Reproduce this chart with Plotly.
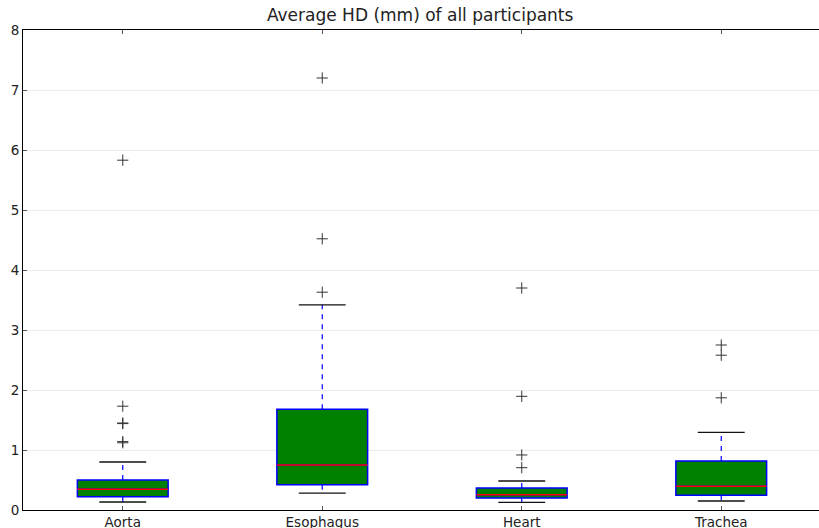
import plotly.graph_objects as go

categories = ["Aorta", "Esophagus", "Heart", "Trachea"]
q1 = [0.22, 0.42, 0.20, 0.245]
median = [0.345, 0.75, 0.255, 0.395]
q3 = [0.50, 1.68, 0.367, 0.815]
whisker_low = [0.133, 0.28, 0.128, 0.15]
whisker_high = [0.80, 3.42, 0.483, 1.295]
outliers = [
    [5.83, 1.73, 1.45, 1.44, 1.14, 1.12],
    [7.20, 4.52, 3.63],
    [3.70, 1.895, 0.917, 0.705],
    [2.75, 2.58, 1.87],
]
title = "Average HD (mm) of all participants"

BOX_W = 0.455
CAP_W = 0.235
positions = list(range(1, len(categories) + 1))

fig = go.Figure()

# whiskers (dashed blue)
wx, wy = [], []
for p, a, b, lo, hi in zip(positions, q1, q3, whisker_low, whisker_high):
    wx += [p, p, None, p, p, None]
    wy += [b, hi, None, a, lo, None]
fig.add_trace(go.Scatter(x=wx, y=wy, mode="lines",
                         line=dict(color="#0000ff", width=1.2, dash="5px,5px"),
                         hoverinfo="skip", showlegend=False))

# boxes
for p, a, m, b in zip(positions, q1, median, q3):
    fig.add_trace(go.Box(x=[p], q1=[a], median=[m], q3=[b],
                         lowerfence=[a], upperfence=[b],
                         width=BOX_W, fillcolor="#008000",
                         line=dict(color="#0000ff", width=1.5),
                         whiskerwidth=0, hoverinfo="skip", showlegend=False))

# medians (red)
mx, my = [], []
for p, m in zip(positions, median):
    mx += [p - BOX_W / 2, p + BOX_W / 2, None]
    my += [m, m, None]
fig.add_trace(go.Scatter(x=mx, y=my, mode="lines",
                         line=dict(color="#ff0000", width=1.5),
                         hoverinfo="skip", showlegend=False))

# caps (black)
cx, cy = [], []
for p, lo, hi in zip(positions, whisker_low, whisker_high):
    cx += [p - CAP_W / 2, p + CAP_W / 2, None, p - CAP_W / 2, p + CAP_W / 2, None]
    cy += [lo, lo, None, hi, hi, None]
fig.add_trace(go.Scatter(x=cx, y=cy, mode="lines",
                         line=dict(color="#111111", width=1.3),
                         hoverinfo="skip", showlegend=False))

# outliers
ox, oy = [], []
for p, vals in zip(positions, outliers):
    ox += [p] * len(vals)
    oy += vals
fig.add_trace(go.Scatter(x=ox, y=oy, mode="markers",
                         marker=dict(symbol="cross-thin", size=8,
                                     line=dict(color="#333333", width=1)),
                         hoverinfo="skip", showlegend=False))

font = "DejaVu Sans, Liberation Sans, sans-serif"
fig.update_layout(
    width=819, height=528,
    margin=dict(l=23, r=0, t=30, b=18, pad=0),
    paper_bgcolor="white", plot_bgcolor="white",
    title=dict(text=title, x=0.513, xanchor="center",
               y=0.983, yanchor="top",
               font=dict(family=font, size=17, color="#222222")),
    font=dict(family=font, size=13.5, color="#222222"),
    boxmode="overlay",
    showlegend=False,
)
fig.update_xaxes(range=[0.5, 4.49], tickvals=positions, ticktext=categories,
                 showgrid=False, zeroline=False, showline=True,
                 linecolor="#000000", linewidth=1, mirror="ticks",
                 ticks="inside", ticklen=4, tickcolor="#555555",
                 automargin=False, tickfont=dict(size=13.5))
fig.update_yaxes(range=[0, 8], dtick=1, showgrid=True, gridcolor="#ececec",
                 gridwidth=1, zeroline=False, showline=True,
                 linecolor="#000000", linewidth=1,
                 ticks="inside", ticklen=4, tickcolor="#555555",
                 automargin=False, tickfont=dict(size=13.5))

fig.write_html("out.html", config={"displayModeBar": False},
               post_script="document.body.style.margin='0';document.body.style.overflow='hidden';")
